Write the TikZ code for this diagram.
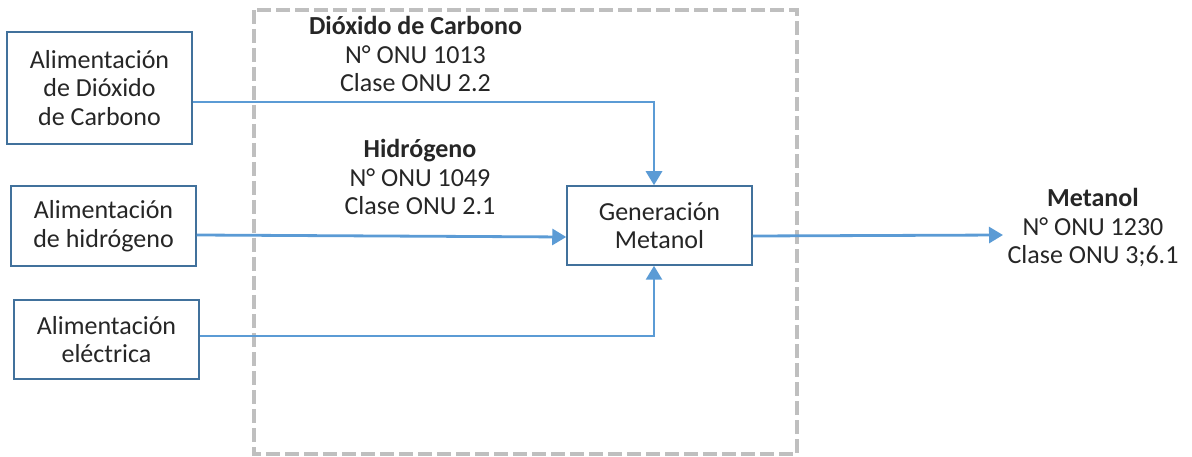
\documentclass[tikz,border=0pt]{standalone}
\usepackage{fontspec}
\setmainfont{Carlito}
\usetikzlibrary{arrows.meta,calc}
\definecolor{boxblue}{HTML}{41719C}
\definecolor{arrblue}{HTML}{5B9BD5}
\definecolor{dashgray}{HTML}{BFBFBF}
\definecolor{txt}{HTML}{262626}
\tikzset{
  txtfont/.style={font=\fontsize{26}{28.5}\selectfont, text=txt, align=center},
  procbox/.style={txtfont, draw=boxblue, line width=1.5pt, fill=white, inner sep=0pt},
  flow/.style={draw=arrblue, line width=2.8pt, -{Triangle[length=14pt,width=16pt]}},
  label/.style={txtfont, inner sep=0pt, anchor=base},
  boundary/.style={draw=dashgray, line width=4pt, dash pattern=on 14pt off 5pt}
}
\begin{document}
\begin{tikzpicture}[x=1pt,y=-1pt]
\useasboundingbox (0,0) rectangle (1192,457);
\draw[boundary] (254,10) rectangle (797,454);

\node[procbox, minimum width=185pt, minimum height=112pt] (b1) at (99.5,88) {Alimentación\\de Dióxido\\de Carbono};
\node[procbox, minimum width=185pt, minimum height=80pt] (b2) at (103.5,226) {Alimentación\\de hidrógeno};
\node[procbox, minimum width=185pt, minimum height=79pt] (b3) at (106.5,339.5) {Alimentación\\eléctrica};
\node[procbox, minimum width=185pt, minimum height=79pt] (gen) at (659.5,225.5) {Generación\\Metanol};

\node[label] (l1) at (415.5,92) {\textbf{Dióxido de Carbono}\\N° ONU 1013\\Clase ONU 2.2};
\node[label] (l2) at (420,215) {\textbf{Hidrógeno}\\N° ONU 1049\\Clase ONU 2.1};
\node[label] (l3) at (1093,264) {\textbf{Metanol}\\N° ONU 1230\\Clase ONU 3;6.1};

\coordinate (out) at (1003,235);
\draw[flow] ($(b1.east)+(0,14)$) -| ($(gen.north)+(-5.5,0)$);
\draw[flow] ($(b2.east)+(0,9)$) -- ($(gen.west)+(0,11.5)$);
\draw[flow] ($(b3.east)+(0,-3.5)$) -| ($(gen.south)+(-5.5,0)$);
\draw[flow] ($(gen.east)+(0,10.5)$) -- (out);
\end{tikzpicture}
\end{document}
